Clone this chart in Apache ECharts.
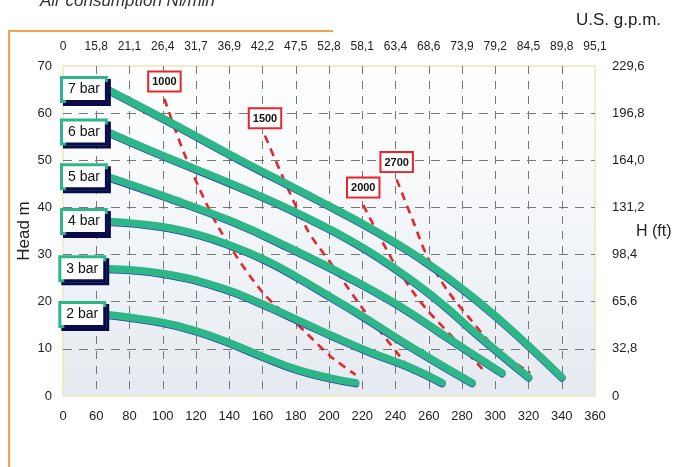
<!DOCTYPE html>
<html><head><meta charset="utf-8">
<script src="https://cdn.jsdelivr.net/npm/echarts@6/dist/echarts.min.js"></script>
<style>html,body{margin:0;padding:0;background:#fff}#c{width:692px;height:467px}</style>
</head><body><div id="c"></div>
<script>
// Tick labels
const lpmLabels = ['0','60','80','100','120','140','160','180','200','220','240','260','280','300','320','340','360'];
const gpmLabels = ['0','15,8','21,1','26,4','31,7','36,9','42,2','47,5','52,8','58,1','63,4','68,6','73,9','79,2','84,5','89,8','95,1'];
const ftLabels = ['0','32,8','65,6','98,4','131,2','164,0','196,8','229,6'];

// Pump curves (x = axis value, y = head m)
const bar7 = [[67,65],[105,58],[147,50],[191,42],[228,35],[260,28],[290,20],[316,12],[340,4]];
const bar6 = [[67,56],[100,51],[145,44.5],[183,38.5],[218,32],[248,25],[270,19],[286,14],[320,4]];
const bar5 = [[67,46.5],[100,42.5],[142,37],[176,31.5],[210,25.5],[243,19],[273,12],[304,4.9]];
const bar4 = [[67,37],[98,36],[122,34.2],[142,31.8],[162,28.8],[182,25],[201,21],[219,17.2],[249,10.5],[286,2.8]];
const bar3 = [[66,27],[100,26],[135,23],[160,19.5],[185,15.5],[205,12.3],[225,9.3],[248,6.2],[268,2.8]];
const bar2 = [[66,17.3],[100,15.6],[120,13.8],[140,11.3],[160,8.4],[181,5.6],[201,3.8],[216,2.8]];

// Air consumption lines (Nl/min)
const air1000 = [[101,63],[114,50.5],[134,35.5],[160,22],[181,15.2],[201,8.4],[216,4.5]];
const air1500 = [[161.5,55.2],[186.6,35.5],[200.6,28.4],[220.6,18.4],[242.7,8.4],[250.7,4.9]];
const air2000 = [[220.6,40.5],[237.7,29.1],[250.7,22],[259.7,18],[274.8,12.3],[290.8,6.3],[294,5]];
const air2700 = [[240.7,45.9],[250.7,37],[258.8,29.8],[271,22.5],[285,16.3],[301,9.9],[321,4.9]];

const FONT = "'Liberation Sans', Arial, sans-serif";
const GREEN = '#2db688';
const RED = '#e5262b';

function greenSeries(name, data) {
  return {
    type: 'line', name: name, smooth: 0.45, symbol: 'none', z: 4,
    lineStyle: {color: GREEN, width: 7.5, cap: 'round', shadowColor: '#2a3cb0', shadowOffsetY: 0.8, shadowBlur: 0},
    data: data.map((p, i) => i === 0 ? {
      value: p, symbol: 'circle', symbolSize: 2, itemStyle: {color: GREEN},
      label: {show: true, position: 'left', distance: 2, formatter: name,
        backgroundColor: '#fff', borderColor: GREEN, borderWidth: 3, padding: [4, 5, 3, 5],
        color: '#111', fontSize: 14, fontFamily: FONT,
        shadowColor: '#0b0b4a', shadowOffsetX: 3, shadowOffsetY: 3, shadowBlur: 0}
    } : p)
  };
}
function redSeries(name, data) {
  return {
    type: 'line', name: name, smooth: 0.3, symbol: 'none', z: 3,
    lineStyle: {color: RED, width: 2.6, type: [8, 6]},
    data: data.map((p, i) => i === 0 ? {
      value: p, symbol: 'circle', symbolSize: 1, itemStyle: {color: RED},
      label: {show: true, position: 'top', distance: 8, formatter: name,
        backgroundColor: '#fff', borderColor: RED, borderWidth: 2, padding: [4, 3, 3, 3],
        color: '#111', fontSize: 11, fontWeight: 'bold', fontFamily: FONT}
    } : p)
  };
}

const chart = echarts.init(document.getElementById('c'));
chart.setOption({
  animation: false,
  textStyle: {fontFamily: FONT},
  grid: {left: 63, right: 97, top: 66, bottom: 71, show: true, borderColor: '#ece7bd', borderWidth: 1.5,
    backgroundColor: new echarts.graphic.LinearGradient(0, 0, 0, 1, [
      {offset: 0, color: '#ffffff'}, {offset: 0.35, color: '#f7f9fb'}, {offset: 1, color: '#e5eaf0'}])},
  xAxis: [
    {type: 'value', min: 40, max: 360, interval: 20, position: 'bottom',
      axisLine: {show: false}, axisTick: {show: false},
      axisLabel: {margin: 14, color: '#222', fontSize: 13, formatter: v => lpmLabels[Math.round((v - 40) / 20)]},
      splitLine: {show: true, showMinLine: false, showMaxLine: false, lineStyle: {color: '#777', type: [8, 7], width: 1}}},
    {type: 'value', min: 40, max: 360, interval: 20, position: 'top',
      axisLine: {show: false}, axisTick: {show: false},
      axisLabel: {margin: 13, color: '#222', fontSize: 12, formatter: v => gpmLabels[Math.round((v - 40) / 20)]},
      splitLine: {show: false}}
  ],
  yAxis: [
    {type: 'value', min: 0, max: 70, interval: 10, position: 'left',
      axisLine: {show: false}, axisTick: {show: false},
      axisLabel: {margin: 11, color: '#222', fontSize: 13},
      splitLine: {show: true, showMinLine: false, showMaxLine: false, lineStyle: {color: '#777', type: [9, 7], width: 1}}},
    {type: 'value', min: 0, max: 70, interval: 10, position: 'right',
      axisLine: {show: false}, axisTick: {show: false},
      axisLabel: {margin: 17, color: '#222', fontSize: 13, formatter: v => ftLabels[Math.round(v / 10)]},
      splitLine: {show: false}}
  ],
  series: [
    redSeries('1000', air1000), redSeries('1500', air1500), redSeries('2000', air2000), redSeries('2700', air2700),
    greenSeries('7 bar', bar7), greenSeries('6 bar', bar6), greenSeries('5 bar', bar5),
    greenSeries('4 bar', bar4), greenSeries('3 bar', bar3), greenSeries('2 bar', bar2)
  ],
  graphic: [
    {type: 'polyline', shape: {points: [[9, 467], [9, 31], [333, 31]]}, style: {stroke: '#f6a24c', lineWidth: 2, fill: null}},
    {type: 'text', x: 40, y: 10, style: {text: 'Air consumption Nl/min', font: 'italic 17px ' + FONT, fill: '#333', verticalAlign: 'bottom'}},
    {type: 'text', x: 576, y: 20, style: {text: 'U.S. g.p.m.', font: '17px ' + FONT, fill: '#222', verticalAlign: 'middle'}},
    {type: 'text', x: 636, y: 232, style: {text: 'H (ft)', font: '16px ' + FONT, fill: '#222', verticalAlign: 'middle'}},
    {type: 'text', x: 24, y: 231, rotation: Math.PI / 2, style: {text: 'Head m', font: '17px ' + FONT, fill: '#222', align: 'center', verticalAlign: 'middle'}}
  ]
});
</script></body></html>
